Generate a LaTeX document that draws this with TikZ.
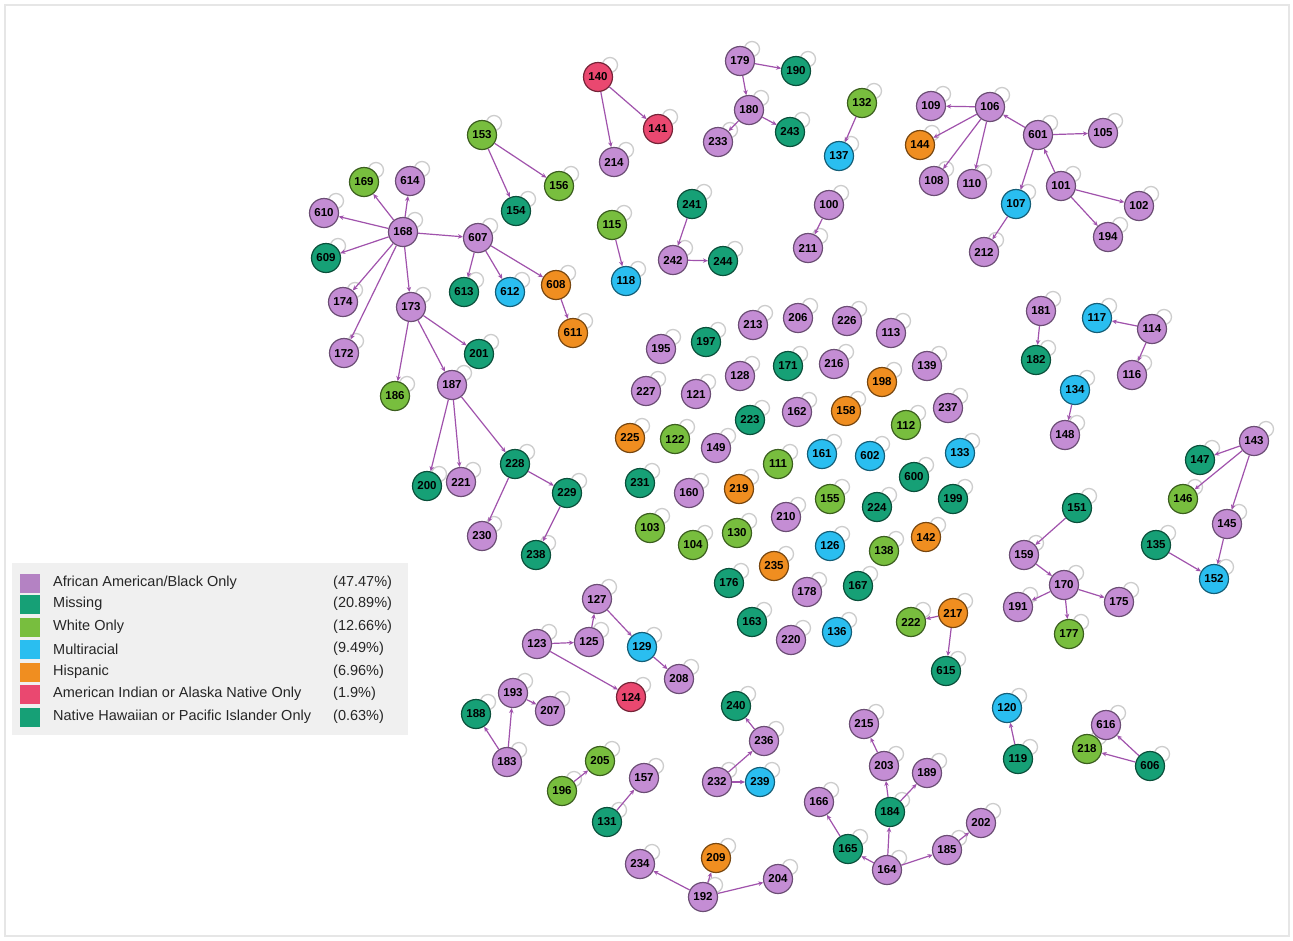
\documentclass[tikz,border=0pt]{standalone}
\usepackage{fontspec}
\setmainfont{Liberation Sans}
\newfontfamily\vtxfont{Liberation Sans}
\usetikzlibrary{arrows.meta}
\pgfdeclarelayer{bg}
\pgfsetlayers{bg,main}
\definecolor{cAA}{RGB}{196,141,212}
\definecolor{cMS}{RGB}{22,160,118}
\definecolor{cWH}{RGB}{120,190,62}
\definecolor{cMU}{RGB}{42,190,240}
\definecolor{cHI}{RGB}{240,142,32}
\definecolor{cAI}{RGB}{234,72,112}
\definecolor{cEdge}{RGB}{160,82,172}
\definecolor{cLoop}{RGB}{205,205,205}
\definecolor{cLeg}{RGB}{240,240,240}
\definecolor{cFrame}{RGB}{230,230,230}
\tikzset{
  vtx/.style={circle, minimum size=29pt, inner sep=0pt, line width=1.2pt,
    font=\vtxfont\bfseries\fontsize{11.5}{13}\selectfont},
  aa/.style={fill=cAA, draw=cAA!55!black},
  ms/.style={fill=cMS, draw=cMS!50!black},
  wh/.style={fill=cWH, draw=cWH!50!black},
  mu/.style={fill=cMU, draw=cMU!50!black},
  hi/.style={fill=cHI, draw=cHI!50!black},
  ai/.style={fill=cAI, draw=cAI!50!black},
  selfloop/.style={draw=cLoop, line width=1.3pt},
  edge/.style={draw=cEdge, line width=1.2pt, -{Stealth[length=5pt,width=4.5pt]}},
  legsq/.style={minimum width=20pt, minimum height=19pt, inner sep=0pt, draw=none},
  legtxt/.style={anchor=west, inner sep=0pt, font=\fontsize{14.5}{16}\selectfont, text=black!85}
}
\newcommand\nd[4]{%
  \begin{pgfonlayer}{bg}\draw[selfloop] (#2,#3) ++(12,-12) circle[radius=7.5pt];\end{pgfonlayer}
  \node[vtx,#4] (n#1) at (#2,#3) {#1};}
\newcommand\ed[2]{\draw[edge] (n#1) -- (n#2);}
\begin{document}
\begin{tikzpicture}[x=1pt,y=-1pt]
\useasboundingbox (0,0) rectangle (1293,940);
\begin{pgfonlayer}{bg}
\fill[white] (0,0) rectangle (1293,940);
\draw[cFrame, line width=2pt] (5,5) rectangle (1289,936);
\end{pgfonlayer}
% top-left cluster
\nd{169}{364}{182}{wh}
\nd{614}{410}{181}{aa}
\nd{610}{324}{213}{aa}
\nd{168}{403}{232}{aa}
\nd{607}{478}{238}{aa}
\nd{609}{326}{258}{ms}
\nd{613}{464}{292}{ms}
\nd{612}{510}{292}{mu}
\nd{608}{556}{285}{hi}
\nd{611}{573}{333}{hi}
\nd{174}{343}{302}{aa}
\nd{173}{411}{307}{aa}
\nd{172}{344}{353}{aa}
\nd{201}{479}{354}{ms}
\nd{186}{395}{396}{wh}
\nd{187}{452}{385}{aa}
\nd{200}{427}{486}{ms}
\nd{221}{461}{482}{aa}
\nd{228}{515}{464}{ms}
\nd{229}{567}{493}{ms}
\nd{230}{482}{536}{aa}
\nd{238}{536}{555}{ms}
\nd{153}{482}{135}{wh}
\nd{156}{559}{186}{wh}
\nd{154}{516}{211}{ms}
% top middle
\nd{140}{598}{77}{ai}
\nd{141}{658}{129}{ai}
\nd{214}{614}{162}{aa}
\nd{179}{740}{61}{aa}
\nd{190}{796}{71}{ms}
\nd{180}{749}{110}{aa}
\nd{233}{718}{142}{aa}
\nd{243}{790}{132}{ms}
\nd{132}{862}{103}{wh}
\nd{137}{839}{156}{mu}
\nd{241}{692}{204}{ms}
\nd{242}{673}{260}{aa}
\nd{244}{723}{261}{ms}
\nd{115}{612}{225}{wh}
\nd{118}{626}{281}{mu}
\nd{100}{829}{205}{aa}
\nd{211}{808}{248}{aa}
% top right
\nd{109}{931}{106}{aa}
\nd{106}{990}{107}{aa}
\nd{144}{920}{145}{hi}
\nd{601}{1038}{135}{aa}
\nd{105}{1103}{133}{aa}
\nd{108}{934}{181}{aa}
\nd{110}{972}{184}{aa}
\nd{101}{1061}{186}{aa}
\nd{107}{1016}{204}{mu}
\nd{102}{1139}{206}{aa}
\nd{194}{1108}{237}{aa}
\nd{212}{984}{252}{aa}
% centre
\nd{213}{753}{325}{aa}
\nd{206}{798}{318}{aa}
\nd{226}{847}{321}{aa}
\nd{113}{891}{333}{aa}
\nd{195}{661}{349}{aa}
\nd{197}{706}{342}{ms}
\nd{171}{788}{366}{ms}
\nd{216}{834}{364}{aa}
\nd{139}{927}{366}{aa}
\nd{128}{740}{376}{aa}
\nd{198}{882}{382}{hi}
\nd{227}{646}{391}{aa}
\nd{121}{696}{394}{aa}
\nd{223}{750}{420}{ms}
\nd{162}{797}{412}{aa}
\nd{158}{846}{411}{hi}
\nd{237}{948}{408}{aa}
\nd{112}{906}{425}{wh}
\nd{225}{630}{438}{hi}
\nd{122}{675}{439}{wh}
\nd{149}{716}{448}{aa}
\nd{111}{778}{464}{wh}
\nd{161}{822}{454}{mu}
\nd{602}{870}{456}{mu}
\nd{133}{960}{453}{mu}
\nd{600}{914}{477}{ms}
\nd{231}{640}{483}{ms}
\nd{160}{689}{493}{aa}
\nd{219}{739}{489}{hi}
\nd{155}{830}{499}{wh}
\nd{224}{877}{507}{ms}
\nd{199}{953}{499}{ms}
\nd{210}{786}{517}{aa}
\nd{103}{650}{528}{wh}
\nd{130}{737}{533}{wh}
\nd{104}{693}{545}{wh}
\nd{142}{926}{537}{hi}
\nd{126}{830}{546}{mu}
\nd{138}{884}{551}{wh}
\nd{235}{774}{566}{hi}
\nd{176}{729}{583}{ms}
\nd{178}{807}{592}{aa}
\nd{167}{858}{586}{ms}
\nd{163}{752}{622}{ms}
\nd{220}{791}{640}{aa}
\nd{136}{837}{632}{mu}
\nd{222}{911}{622}{wh}
\nd{217}{953}{613}{hi}
\nd{615}{946}{671}{ms}
% right
\nd{181}{1041}{311}{aa}
\nd{117}{1097}{318}{mu}
\nd{114}{1152}{329}{aa}
\nd{182}{1036}{360}{ms}
\nd{116}{1132}{375}{aa}
\nd{134}{1075}{390}{mu}
\nd{148}{1065}{435}{aa}
\nd{143}{1254}{441}{aa}
\nd{147}{1200}{460}{ms}
\nd{146}{1183}{499}{wh}
\nd{151}{1077}{508}{ms}
\nd{145}{1227}{524}{aa}
\nd{135}{1156}{545}{ms}
\nd{159}{1024}{555}{aa}
\nd{152}{1214}{579}{mu}
\nd{170}{1064}{585}{aa}
\nd{191}{1018}{607}{aa}
\nd{175}{1119}{602}{aa}
\nd{177}{1069}{634}{wh}
% bottom left
\nd{127}{597}{599}{aa}
\nd{123}{537}{644}{aa}
\nd{125}{589}{642}{aa}
\nd{129}{642}{647}{mu}
\nd{208}{679}{679}{aa}
\nd{124}{631}{697}{ai}
\nd{193}{513}{693}{aa}
\nd{207}{550}{711}{aa}
\nd{188}{476}{714}{ms}
\nd{183}{507}{762}{aa}
\nd{205}{600}{761}{wh}
\nd{196}{562}{791}{wh}
\nd{157}{644}{778}{aa}
\nd{131}{607}{822}{ms}
\nd{240}{736}{706}{ms}
\nd{236}{764}{741}{aa}
\nd{232}{717}{782}{aa}
\nd{239}{760}{782}{mu}
\nd{234}{640}{864}{aa}
\nd{209}{716}{858}{hi}
\nd{192}{703}{897}{aa}
\nd{204}{778}{879}{aa}
% bottom right
\nd{215}{864}{724}{aa}
\nd{120}{1007}{708}{mu}
\nd{616}{1106}{725}{aa}
\nd{203}{884}{766}{aa}
\nd{189}{927}{773}{aa}
\nd{218}{1087}{749}{wh}
\nd{119}{1018}{759}{ms}
\nd{606}{1150}{766}{ms}
\nd{166}{819}{802}{aa}
\nd{184}{890}{812}{ms}
\nd{202}{981}{823}{aa}
\nd{165}{848}{849}{ms}
\nd{185}{947}{850}{aa}
\nd{164}{887}{870}{aa}
% edges
\ed{168}{169}\ed{168}{614}\ed{168}{610}\ed{168}{609}\ed{168}{174}\ed{168}{172}
\ed{168}{173}\ed{168}{607}\ed{607}{613}\ed{607}{612}\ed{607}{608}\ed{608}{611}
\ed{173}{201}\ed{173}{187}\ed{173}{186}\ed{187}{200}\ed{187}{221}\ed{187}{228}
\ed{228}{229}\ed{228}{230}\ed{229}{238}\ed{153}{154}\ed{153}{156}
\ed{140}{214}\ed{140}{141}\ed{179}{190}\ed{179}{180}\ed{180}{233}\ed{180}{243}
\ed{132}{137}\ed{241}{242}\ed{242}{244}\ed{115}{118}\ed{100}{211}
\ed{106}{109}\ed{106}{144}\ed{106}{108}\ed{106}{110}\ed{601}{106}\ed{601}{105}
\ed{601}{107}\ed{101}{601}\ed{101}{102}\ed{101}{194}\ed{107}{212}
\ed{217}{222}\ed{217}{615}
\ed{181}{182}\ed{114}{117}\ed{114}{116}\ed{134}{148}\ed{143}{147}\ed{143}{146}
\ed{143}{145}\ed{145}{152}\ed{135}{152}\ed{151}{159}\ed{159}{170}\ed{170}{191}
\ed{170}{175}\ed{170}{177}
\ed{123}{125}\ed{125}{127}\ed{127}{129}\ed{129}{208}\ed{123}{124}\ed{193}{207}
\ed{183}{193}\ed{183}{188}\ed{196}{205}\ed{131}{157}\ed{236}{240}\ed{232}{236}
\ed{232}{239}\ed{192}{234}\ed{192}{209}\ed{192}{204}
\ed{203}{215}\ed{184}{203}\ed{184}{189}\ed{164}{184}\ed{164}{165}\ed{165}{166}
\ed{164}{185}\ed{185}{202}\ed{119}{120}\ed{606}{616}\ed{606}{218}
% legend
\fill[cLeg] (12,563) rectangle (408,735);
\node[legsq,fill=cAA!92!black] (lq1) at (30,583) {};
\node[legsq,fill=cMS] (lq2) at (30,604) {};
\node[legsq,fill=cWH] (lq3) at (30,627) {};
\node[legsq,fill=cMU] (lq4) at (30,649) {};
\node[legsq,fill=cHI] (lq5) at (30,672) {};
\node[legsq,fill=cAI] (lq6) at (30,694) {};
\node[legsq,fill=cMS] (lq7) at (30,717) {};
\node[legtxt] (lt1) at (53,583) {African American/Black Only};
\node[legtxt] (lt2) at (53,604) {Missing};
\node[legtxt] (lt3) at (53,627) {White Only};
\node[legtxt] (lt4) at (53,649) {Multiracial};
\node[legtxt] (lt5) at (53,672) {Hispanic};
\node[legtxt] (lt6) at (53,694) {American Indian or Alaska Native Only};
\node[legtxt] (lt7) at (53,717) {Native Hawaiian or Pacific Islander Only};
\node[legtxt] (lp1) at (333,583) {(47.47\%)};
\node[legtxt] (lp2) at (333,604) {(20.89\%)};
\node[legtxt] (lp3) at (333,627) {(12.66\%)};
\node[legtxt] (lp4) at (333,649) {(9.49\%)};
\node[legtxt] (lp5) at (333,672) {(6.96\%)};
\node[legtxt] (lp6) at (333,694) {(1.9\%)};
\node[legtxt] (lp7) at (333,717) {(0.63\%)};
\end{tikzpicture}
\end{document}
